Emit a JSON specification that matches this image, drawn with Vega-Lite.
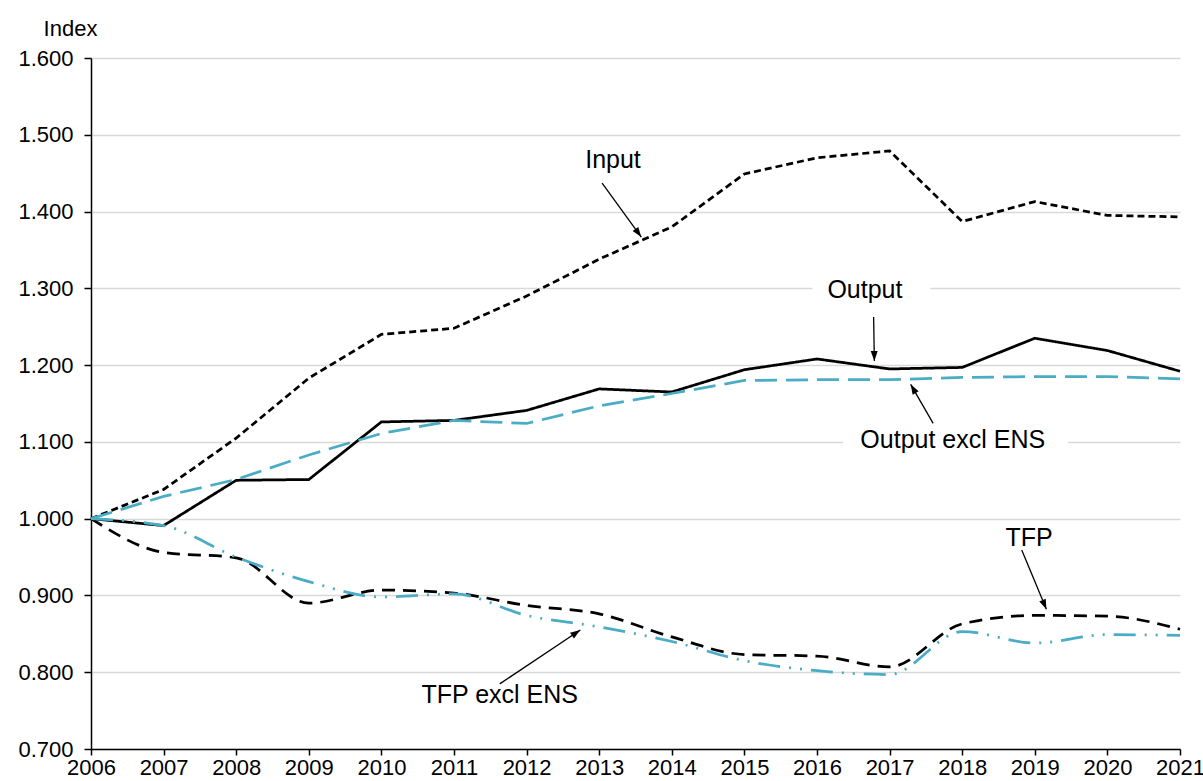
{
  "$schema": "https://vega.github.io/schema/vega-lite/v6.json",
  "width": 1089,
  "height": 691,
  "autosize": "none",
  "padding": {"left": 91, "top": 58, "right": 23, "bottom": 32},
  "background": "white",
  "config": {
    "view": {"stroke": null},
    "font": "Liberation Sans",
    "axis": {
      "labelFont": "Liberation Sans",
      "labelFontSize": 22,
      "labelColor": "black",
      "domainColor": "black",
      "domainWidth": 1.5,
      "tickColor": "black",
      "tickWidth": 1.5,
      "gridColor": "#d9d9d9",
      "gridWidth": 1.5,
      "titleFont": "Liberation Sans",
      "titleFontSize": 22,
      "titleFontWeight": "normal",
      "titleColor": "black"
    }
  },
  "datasets": {
    "series": [
      {"year": 2006, "Input": 1.000, "Output": 1.000, "Output excl ENS": 1.000, "TFP": 1.000, "TFP excl ENS": 1.000},
      {"year": 2007, "Input": 1.038, "Output": 0.991, "Output excl ENS": 1.029, "TFP": 0.956, "TFP excl ENS": 0.991},
      {"year": 2008, "Input": 1.105, "Output": 1.050, "Output excl ENS": 1.051, "TFP": 0.949, "TFP excl ENS": 0.950},
      {"year": 2009, "Input": 1.183, "Output": 1.051, "Output excl ENS": 1.083, "TFP": 0.890, "TFP excl ENS": 0.918},
      {"year": 2010, "Input": 1.240, "Output": 1.126, "Output excl ENS": 1.111, "TFP": 0.907, "TFP excl ENS": 0.898},
      {"year": 2011, "Input": 1.248, "Output": 1.128, "Output excl ENS": 1.128, "TFP": 0.903, "TFP excl ENS": 0.902},
      {"year": 2012, "Input": 1.290, "Output": 1.141, "Output excl ENS": 1.124, "TFP": 0.887, "TFP excl ENS": 0.874},
      {"year": 2013, "Input": 1.338, "Output": 1.169, "Output excl ENS": 1.147, "TFP": 0.876, "TFP excl ENS": 0.859},
      {"year": 2014, "Input": 1.380, "Output": 1.165, "Output excl ENS": 1.163, "TFP": 0.846, "TFP excl ENS": 0.840},
      {"year": 2015, "Input": 1.449, "Output": 1.194, "Output excl ENS": 1.180, "TFP": 0.823, "TFP excl ENS": 0.815},
      {"year": 2016, "Input": 1.470, "Output": 1.208, "Output excl ENS": 1.181, "TFP": 0.821, "TFP excl ENS": 0.802},
      {"year": 2017, "Input": 1.479, "Output": 1.195, "Output excl ENS": 1.181, "TFP": 0.807, "TFP excl ENS": 0.797},
      {"year": 2018, "Input": 1.387, "Output": 1.197, "Output excl ENS": 1.184, "TFP": 0.863, "TFP excl ENS": 0.853},
      {"year": 2019, "Input": 1.413, "Output": 1.235, "Output excl ENS": 1.185, "TFP": 0.874, "TFP excl ENS": 0.838},
      {"year": 2020, "Input": 1.395, "Output": 1.219, "Output excl ENS": 1.185, "TFP": 0.873, "TFP excl ENS": 0.849},
      {"year": 2021, "Input": 1.393, "Output": 1.192, "Output excl ENS": 1.182, "TFP": 0.856, "TFP excl ENS": 0.848}
    ],
    "labels": [
      {"label": "Input", "x": 2013.19, "y": 1.467},
      {"label": "Output", "x": 2016.66, "y": 1.298},
      {"label": "Output excl ENS", "x": 2017.87, "y": 1.1025},
      {"label": "TFP", "x": 2018.92, "y": 0.9745},
      {"label": "TFP excl ENS", "x": 2011.63, "y": 0.7704}
    ],
    "arrows": [
      {"label": "Input", "x1": 2013.04, "y1": 1.4369, "x2": 2013.58, "y2": 1.3668},
      {"label": "Output", "x1": 2016.78, "y1": 1.2626, "x2": 2016.79, "y2": 1.2053},
      {"label": "Output excl ENS", "x1": 2017.60, "y1": 1.1242, "x2": 2017.29, "y2": 1.175},
      {"label": "TFP", "x1": 2018.82, "y1": 0.9592, "x2": 2019.16, "y2": 0.882},
      {"label": "TFP excl ENS", "x1": 2011.63, "y1": 0.7848, "x2": 2012.74, "y2": 0.855}
    ],
    "boxes": [
      {"label": "Output", "x1": 2015.94, "x2": 2017.56, "y1": 1.29, "y2": 1.31},
      {"label": "Output excl ENS", "x1": 2016.36, "x2": 2019.46, "y1": 1.09, "y2": 1.11}
    ]
  },
  "layer": [
    {
      "data": {"name": "boxes"},
      "mark": {"type": "rect", "fill": "white", "strokeWidth": 0},
      "encoding": {
        "x": {"field": "x1", "type": "quantitative", "scale": {"domain": [2006, 2021], "nice": false, "zero": false},
              "axis": {"values": [2006,2007,2008,2009,2010,2011,2012,2013,2014,2015,2016,2017,2018,2019,2020,2021], "format": "d", "title": null, "grid": false, "tickSize": 6, "labelPadding": 2, "labelFlush": false, "labelOverlap": false}},
        "x2": {"field": "x2"},
        "y": {"field": "y1", "type": "quantitative", "scale": {"domain": [0.7, 1.6], "nice": false, "zero": false},
              "axis": {"values": [0.7,0.8,0.9,1.0,1.1,1.2,1.3,1.4,1.5,1.6], "format": ".3f", "title": "Index", "titleAngle": 0, "titleAlign": "center", "titleBaseline": "alphabetic", "titleX": -21, "titleY": -23, "grid": true, "tickSize": 7, "labelPadding": 11}},
        "y2": {"field": "y2"}
      }
    },
    {
      "data": {"name": "series"},
      "transform": [
        {"fold": ["Input", "Output", "Output excl ENS"], "as": ["series", "value"]}
      ],
      "mark": {"type": "line", "strokeWidth": 2.75},
      "encoding": {
        "x": {"field": "year", "type": "quantitative"},
        "y": {"field": "value", "type": "quantitative"},
        "color": {"field": "series", "type": "nominal", "legend": null,
                  "scale": {"domain": ["Input", "Output", "Output excl ENS", "TFP", "TFP excl ENS"], "range": ["black", "black", "#4bacc6", "black", "#4bacc6"]}},
        "strokeDash": {"field": "series", "type": "nominal", "legend": null,
                  "scale": {"domain": ["Input", "Output", "Output excl ENS", "TFP", "TFP excl ENS"], "range": [[7, 4], [1, 0], [22, 9], [13, 8], [22, 9, 2, 9, 2, 9]]}}
      }
    },
    {
      "data": {"name": "series"},
      "transform": [
        {"fold": ["TFP", "TFP excl ENS"], "as": ["series", "value"]}
      ],
      "mark": {"type": "line", "strokeWidth": 2.75, "interpolate": "monotone"},
      "encoding": {
        "x": {"field": "year", "type": "quantitative"},
        "y": {"field": "value", "type": "quantitative"},
        "color": {"field": "series", "type": "nominal", "legend": null},
        "strokeDash": {"field": "series", "type": "nominal", "legend": null}
      }
    },
    {
      "data": {"name": "arrows"},
      "mark": {"type": "rule", "color": "black", "strokeWidth": 1.3},
      "encoding": {
        "x": {"field": "x1", "type": "quantitative"},
        "y": {"field": "y1", "type": "quantitative"},
        "x2": {"field": "x2"},
        "y2": {"field": "y2"}
      }
    },
    {
      "data": {"name": "arrows"},
      "transform": [{"filter": "datum.label === 'Input'"}],
      "mark": {"type": "point", "shape": "M0,0L-0.35,1L0.35,1Z", "filled": true, "color": "black", "opacity": 1, "size": 400, "angle": 144},
      "encoding": {"x": {"field": "x2", "type": "quantitative"}, "y": {"field": "y2", "type": "quantitative"}}
    },
    {
      "data": {"name": "arrows"},
      "transform": [{"filter": "datum.label === 'Output'"}],
      "mark": {"type": "point", "shape": "M0,0L-0.35,1L0.35,1Z", "filled": true, "color": "black", "opacity": 1, "size": 400, "angle": 179},
      "encoding": {"x": {"field": "x2", "type": "quantitative"}, "y": {"field": "y2", "type": "quantitative"}}
    },
    {
      "data": {"name": "arrows"},
      "transform": [{"filter": "datum.label === 'Output excl ENS'"}],
      "mark": {"type": "point", "shape": "M0,0L-0.35,1L0.35,1Z", "filled": true, "color": "black", "opacity": 1, "size": 400, "angle": 330},
      "encoding": {"x": {"field": "x2", "type": "quantitative"}, "y": {"field": "y2", "type": "quantitative"}}
    },
    {
      "data": {"name": "arrows"},
      "transform": [{"filter": "datum.label === 'TFP'"}],
      "mark": {"type": "point", "shape": "M0,0L-0.35,1L0.35,1Z", "filled": true, "color": "black", "opacity": 1, "size": 400, "angle": 157},
      "encoding": {"x": {"field": "x2", "type": "quantitative"}, "y": {"field": "y2", "type": "quantitative"}}
    },
    {
      "data": {"name": "arrows"},
      "transform": [{"filter": "datum.label === 'TFP excl ENS'"}],
      "mark": {"type": "point", "shape": "M0,0L-0.35,1L0.35,1Z", "filled": true, "color": "black", "opacity": 1, "size": 400, "angle": 56},
      "encoding": {"x": {"field": "x2", "type": "quantitative"}, "y": {"field": "y2", "type": "quantitative"}}
    },
    {
      "data": {"name": "labels"},
      "mark": {"type": "text", "font": "Liberation Sans", "fontSize": 25, "color": "black", "align": "center", "baseline": "middle"},
      "encoding": {
        "x": {"field": "x", "type": "quantitative"},
        "y": {"field": "y", "type": "quantitative"},
        "text": {"field": "label"}
      }
    }
  ]
}
